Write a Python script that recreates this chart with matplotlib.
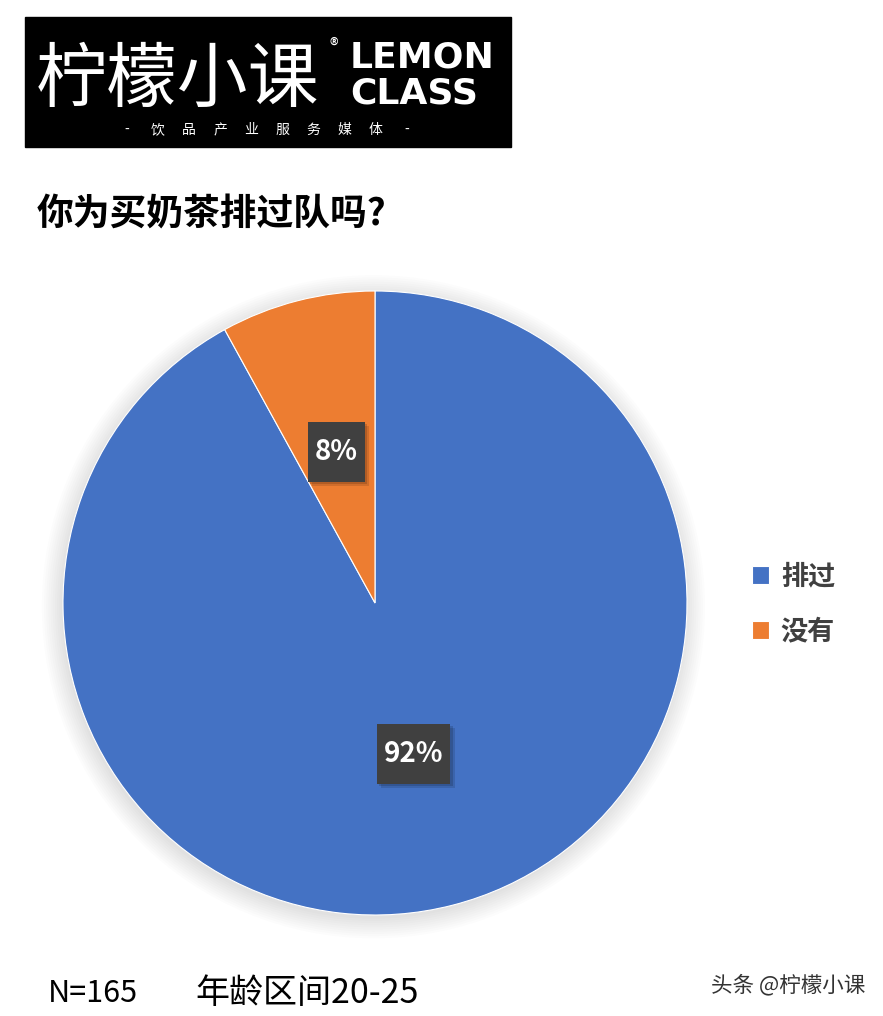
import matplotlib
matplotlib.use('Agg')
import matplotlib.pyplot as plt
from matplotlib.patches import Rectangle, Circle
import matplotlib.patheffects as pe

plt.rcParams['font.family'] = ['Noto Sans CJK SC', 'DejaVu Sans']

#### data
labels = ['排过', '没有']
shares = [92, 8]
colors = ['#4472C4', '#ED7D31']
title = '你为买奶茶排过队吗?'
note_n = 'N=165'
note_age = '年龄区间20-25'
slogan = ['-', '饮', '品', '产', '业', '服', '务', '媒', '体', '-']

W, H = 883, 1016
fig = plt.figure(figsize=(W / 100, H / 100), dpi=100)
fig.patch.set_facecolor('white')


def fx(x):
    return x / W


def fy(y):
    return 1 - y / H


#### logo block
fig.patches.append(Rectangle((fx(25), fy(147)), fx(486), 130 / H,
                             transform=fig.transFigure, color='black'))
fig.text(fx(36), fy(80), '柠檬小课', color='white', fontsize=51,
         va='center', ha='left', weight='medium')
fig.text(fx(334), fy(46), '®', color='white', fontsize=13, va='center', ha='center')
fig.text(fx(350), fy(57), 'LEMON', color='white', fontsize=26, family='DejaVu Sans',
         weight='bold', va='center', ha='left')
fig.text(fx(350), fy(93), 'CLASS', color='white', fontsize=26, family='DejaVu Sans',
         weight='bold', va='center', ha='left')
for i, ch in enumerate(slogan):
    fig.text(fx(127 + i * 31.1), fy(130), ch, color='white', fontsize=10,
             va='center', ha='center')

#### title
fig.text(fx(37), fy(215), title, fontsize=26.5, weight='heavy', color='black',
         va='center', ha='left')

#### pie
R = 312
ax = fig.add_axes([fx(375 - R), fy(603 + R), 2 * R / W, 2 * R / H])

# soft shadow
for k in range(10):
    ax.add_patch(Circle((-0.005, -0.012), 1.0 + 0.007 * k, color='#000000',
                        alpha=0.012, lw=0, zorder=0, clip_on=False))

wedges, texts, autotexts = ax.pie(shares, colors=colors, startangle=90, counterclock=False,
                                  autopct='%d%%', pctdistance=0.5, radius=1,
                                  wedgeprops=dict(linewidth=0.8, edgecolor='white'),
                                  textprops=dict(color='white', fontsize=20, weight='bold'))
ax.set_xlim(-1, 1)
ax.set_ylim(-1, 1)
ax.set_aspect('equal')
ax.axis('off')
for t in autotexts:
    t.set_zorder(5)
    t.set_bbox(dict(boxstyle='square,pad=0.25', mutation_aspect=2.3,
                    facecolor='#404040', edgecolor='none'))
    t.get_bbox_patch().set_path_effects([
        pe.SimplePatchShadow(offset=(3, -3), shadow_rgbFace='black', alpha=0.12),
        pe.SimplePatchShadow(offset=(1.5, -1.5), shadow_rgbFace='black', alpha=0.15),
        pe.Normal()])

#### legend
fig.legend(wedges, labels, loc='center left', bbox_to_anchor=(fx(728), fy(604)),
           frameon=False, handlelength=0.6, handleheight=0.6,
           handletextpad=0.45, labelspacing=1.0,
           prop=dict(family=['Noto Sans CJK SC'], weight='bold', size=19.5))
for t in fig.legends[0].get_texts():
    t.set_color('#404040')

#### footer
fig.text(fx(48), fy(993), note_n, fontsize=22, color='black', va='center', ha='left')
fig.text(fx(195), fy(993), note_age, fontsize=24.5, color='black', va='center', ha='left')
fig.text(fx(865), fy(985), '头条 @柠檬小课', fontsize=15.5, color='#333333',
         va='center', ha='right')

fig.savefig('out.png', dpi=100)
